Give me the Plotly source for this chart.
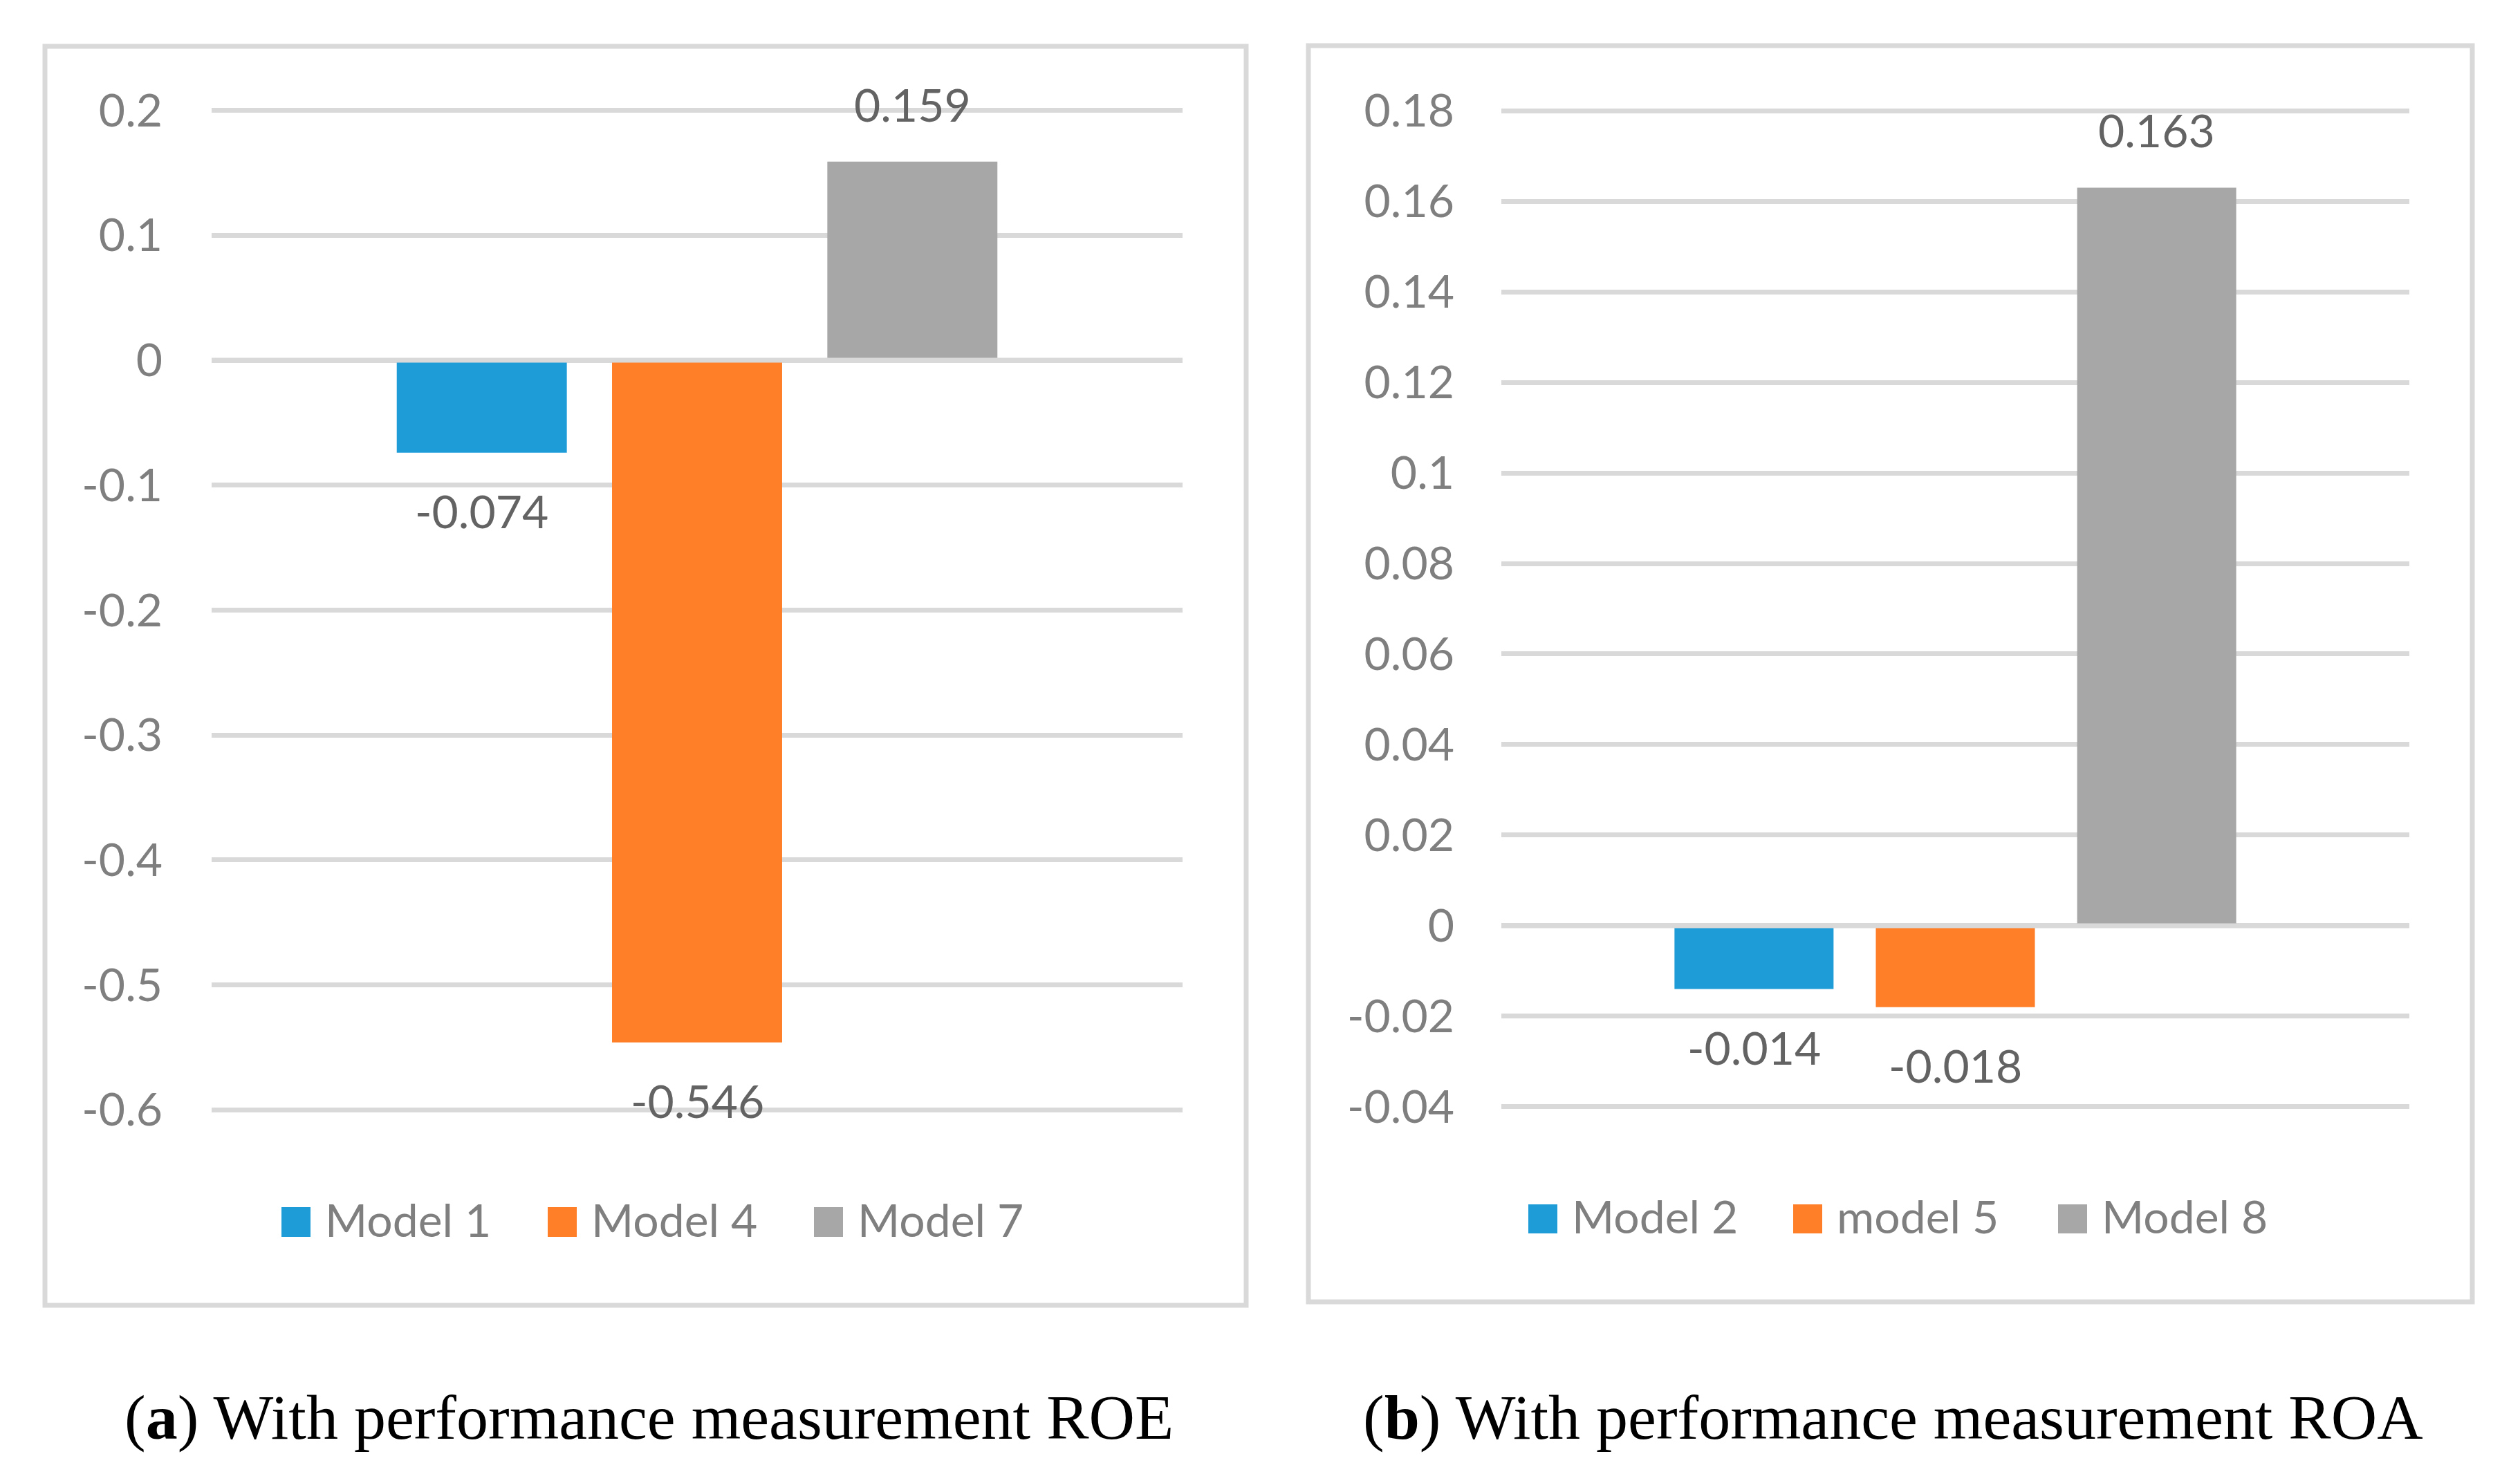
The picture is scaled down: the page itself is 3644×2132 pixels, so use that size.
import plotly.graph_objects as go

# ---------------- data ----------------
roe_models = ["Model 1", "Model 4", "Model 7"]
roe_values = [-0.074, -0.546, 0.159]

roa_models = ["Model 2", "model 5", "Model 8"]
roa_values = [-0.014, -0.018, 0.163]

series_colors = ["#1E9CD8", "#FE7F27", "#A7A7A7"]

roe_tickvals = [0.2, 0.1, 0, -0.1, -0.2, -0.3, -0.4, -0.5, -0.6]
roe_ticktext = ["0.2", "0.1", "0", "-0.1", "-0.2", "-0.3", "-0.4", "-0.5", "-0.6"]

roa_tickvals = [0.18, 0.16, 0.14, 0.12, 0.1, 0.08, 0.06, 0.04, 0.02, 0, -0.02, -0.04]
roa_ticktext = ["0.18", "0.16", "0.14", "0.12", "0.1", "0.08", "0.06", "0.04",
                "0.02", "0", "-0.02", "-0.04"]

captions = ["(<b>a</b>) With performance measurement ROE",
            "(<b>b</b>) With performance measurement ROA"]

# ---------------- layout constants (pixels) ----------------
W, H = 3644, 2132
GRID = "#D9D9D9"
TICK_COLOR = "#7F7F7F"
LABEL_COLOR = "#636363"
FONT = "Lato"
FS = 66


def fx(p):
    return p / W


def fy(p):
    return 1 - p / H


panels = [
    dict(models=roe_models, values=roe_values, tv=roe_tickvals, tt=roe_ticktext,
         yr=[-0.6, 0.2], xa="x", ya="y",
         plot_x=(306, 1710), plot_y=(158.5, 1606.5),
         box=(65, 67, 1802, 1888),
         leg_start=407, leg_step=385, leg_y=(1746, 1789), leg_text_y=1763,
         cap_x=938, caption=captions[0], standoff=70),
    dict(models=roa_models, values=roa_values, tv=roa_tickvals, tt=roa_ticktext,
         yr=[-0.04, 0.18], xa="x2", ya="y2",
         plot_x=(2171, 3484), plot_y=(159, 1602),
         box=(1892, 66, 3575, 1883),
         leg_start=2210, leg_step=383, leg_y=(1742, 1784), leg_text_y=1758,
         cap_x=2737, caption=captions[1], standoff=67),
]

fig = go.Figure()
shapes = []
annotations = []
layout_axes = {}

for k, p in enumerate(panels):
    for i, (m, v) in enumerate(zip(p["models"], p["values"])):
        fig.add_trace(go.Bar(
            x=[m], y=[v], name=m,
            marker=dict(color=series_colors[i], line=dict(width=0)),
            xaxis=p["xa"], yaxis=p["ya"], showlegend=False,
            hoverinfo="x+y",
        ))
        # data label
        annotations.append(dict(
            x=m, y=v, xref=p["xa"], yref=p["ya"], text=f"{v:.3f}",
            showarrow=False,
            yanchor="bottom" if v >= 0 else "top",
            yshift=42 if v >= 0 else -42,
            font=dict(family=FONT, size=FS, color=LABEL_COLOR),
        ))
        # legend entry
        sq = p["leg_start"] + i * p["leg_step"]
        shapes.append(dict(
            type="rect", xref="paper", yref="paper",
            x0=fx(sq), x1=fx(sq + 42), y0=fy(p["leg_y"][1]), y1=fy(p["leg_y"][0]),
            fillcolor=series_colors[i], line=dict(width=0), layer="above",
        ))
        annotations.append(dict(
            x=fx(sq + 61), y=fy(p["leg_text_y"]), xref="paper", yref="paper",
            text=m, showarrow=False, xanchor="left", yanchor="middle",
            font=dict(family=FONT, size=FS, color=TICK_COLOR),
        ))

    # zero (category axis) line drawn above the bars
    shapes.append(dict(
        type="line", xref=f"{p['xa']} domain", yref=p["ya"],
        x0=0, x1=1, y0=0, y1=0, line=dict(color=GRID, width=7), layer="above",
    ))
    # chart-area border
    bx0, by0, bx1, by1 = p["box"]
    shapes.append(dict(
        type="rect", xref="paper", yref="paper",
        x0=fx(bx0), x1=fx(bx1), y0=fy(by1), y1=fy(by0),
        line=dict(color=GRID, width=7), fillcolor="rgba(0,0,0,0)", layer="below",
    ))
    # caption
    annotations.append(dict(
        x=fx(p["cap_x"]), y=fy(2050), xref="paper", yref="paper",
        text=p["caption"], showarrow=False, xanchor="center", yanchor="middle",
        font=dict(family="Liberation Serif", size=92, color="#000000"),
    ))

    xname = "xaxis" if k == 0 else "xaxis2"
    yname = "yaxis" if k == 0 else "yaxis2"
    layout_axes[xname] = dict(
        domain=[fx(p["plot_x"][0]), fx(p["plot_x"][1])],
        anchor=p["ya"], type="category",
        categoryorder="array", categoryarray=p["models"],
        range=[-1.255, 3.255],
        showticklabels=False, showgrid=False, zeroline=False, showline=False,
        ticks="", fixedrange=True,
    )
    pad = (p["yr"][1] - p["yr"][0]) * 0.0008
    layout_axes[yname] = dict(
        domain=[fy(p["plot_y"][1]), fy(p["plot_y"][0])],
        anchor=p["xa"], range=[p["yr"][0] - pad, p["yr"][1] + pad],
        tickmode="array", tickvals=p["tv"], ticktext=p["tt"],
        showgrid=True, gridcolor=GRID, gridwidth=7,
        zeroline=False, showline=False, ticks="",
        tickfont=dict(family=FONT, size=FS, color=TICK_COLOR),
        ticklabelstandoff=p["standoff"], automargin=False, fixedrange=True,
    )

fig.update_layout(
    width=W, height=H, autosize=False,
    margin=dict(l=0, r=0, t=0, b=0),
    paper_bgcolor="white", plot_bgcolor="white",
    barmode="overlay", bargap=0.21,
    shapes=shapes, annotations=annotations,
    showlegend=False,
    **layout_axes,
)

fig.write_html(
    "out.html",
    config={"displayModeBar": False},
    post_script="document.body.style.margin='0px';document.body.style.overflow='hidden';",
)
